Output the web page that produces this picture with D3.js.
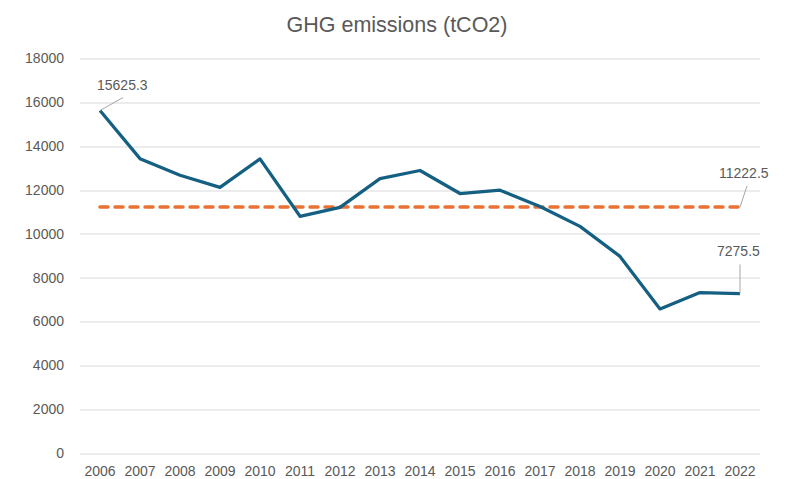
<!DOCTYPE html>
<html>
<head>
<meta charset="utf-8">
<script src="https://cdn.jsdelivr.net/npm/d3@7"></script>
<style>
  body { margin: 0; background: #fff; }
  text { font-family: "Liberation Sans", Arial, sans-serif; fill: #595959; }
</style>
</head>
<body>
<script>
// data
var years = ["2006","2007","2008","2009","2010","2011","2012","2013","2014",
             "2015","2016","2017","2018","2019","2020","2021","2022"];
var emissions = [15625.3, 13430, 12670, 12120, 13420, 10800, 11210, 12520, 12890,
                 11840, 11990, 11250, 10340, 8970, 6575, 7320, 7275.5];
var average = 11222.5;
var yTicks = [0, 2000, 4000, 6000, 8000, 10000, 12000, 14000, 16000, 18000];

var W = 802, H = 479;
var margin = {top: 58.5, right: 42, bottom: 26, left: 80},
    width = W - margin.left - margin.right,
    height = H - margin.top - margin.bottom;

var svg = d3.select("body").append("svg")
    .attr("width", W)
    .attr("height", H);

// title
svg.append("text")
    .attr("x", 397)
    .attr("y", 31.5)
    .attr("text-anchor", "middle")
    .style("font-size", "21.5px")
    .text("GHG emissions (tCO2)");

var g = svg.append("g")
    .attr("transform", "translate(" + margin.left + "," + margin.top + ")");

var x = d3.scaleBand().domain(years).range([0, width]);
var y = d3.scaleLinear().domain([0, 18000]).range([height, 0]);
var cx = function(yr) { return x(yr) + x.bandwidth() / 2; };

// gridlines
g.selectAll("line.grid")
    .data(yTicks)
    .enter().append("line")
    .attr("class", "grid")
    .attr("x1", 0).attr("x2", width)
    .attr("y1", function(d) { return Math.round(y(d)) + 0.5; })
    .attr("y2", function(d) { return Math.round(y(d)) + 0.5; })
    .style("stroke", "#d9d9d9")
    .style("stroke-width", 1);

// y axis labels
var yAxis = d3.axisLeft(y).tickValues(yTicks).tickSize(0).tickPadding(16)
    .tickFormat(d3.format("d"));
g.append("g").call(yAxis)
    .call(function(s) { s.select(".domain").remove(); })
    .selectAll("text")
    .style("font-size", "14px")
    .style("fill", "#595959");

// x axis labels
var xAxis = d3.axisBottom(x).tickSize(0).tickPadding(13);
g.append("g")
    .attr("transform", "translate(0," + height + ")")
    .call(xAxis)
    .call(function(s) { s.select(".domain").remove(); })
    .selectAll("text")
    .style("font-size", "14px")
    .style("fill", "#595959");

// average line
g.append("line")
    .attr("x1", cx(years[0]))
    .attr("x2", cx(years[years.length - 1]))
    .attr("y1", y(average))
    .attr("y2", y(average))
    .style("stroke", "#E97132")
    .style("stroke-width", 3.5)
    .style("stroke-dasharray", "8,7")
    .style("stroke-linecap", "round");

// emissions line
var line = d3.line()
    .x(function(d, i) { return cx(years[i]); })
    .y(function(d) { return y(d); });

g.append("path")
    .datum(emissions)
    .attr("d", line)
    .style("fill", "none")
    .style("stroke", "#156082")
    .style("stroke-width", 3.25)
    .style("stroke-linejoin", "round");

// data labels with leader lines
var last = years.length - 1;
var labels = [
    {v: emissions[0], px: cx(years[0]), py: y(emissions[0]), lx: 23, ly: -13, tx: -3, ty: -21},
    {v: average, px: cx(years[last]), py: y(average), lx: 7, ly: -21, tx: -21, ty: -29},
    {v: emissions[last], px: cx(years[last]), py: y(emissions[last]), lx: 0, ly: -29, tx: -23, ty: -38}
];

labels.forEach(function(d) {
    g.append("line")
        .attr("x1", d.px).attr("y1", d.py)
        .attr("x2", d.px + d.lx).attr("y2", d.py + d.ly)
        .style("stroke", "#a6a6a6")
        .style("stroke-width", 1);
    g.append("text")
        .attr("x", d.px + d.tx)
        .attr("y", d.py + d.ty)
        .attr("text-anchor", "start")
        .style("font-size", "14px")
        .text(d3.format(".1f")(d.v));
});
</script>
</body>
</html>
